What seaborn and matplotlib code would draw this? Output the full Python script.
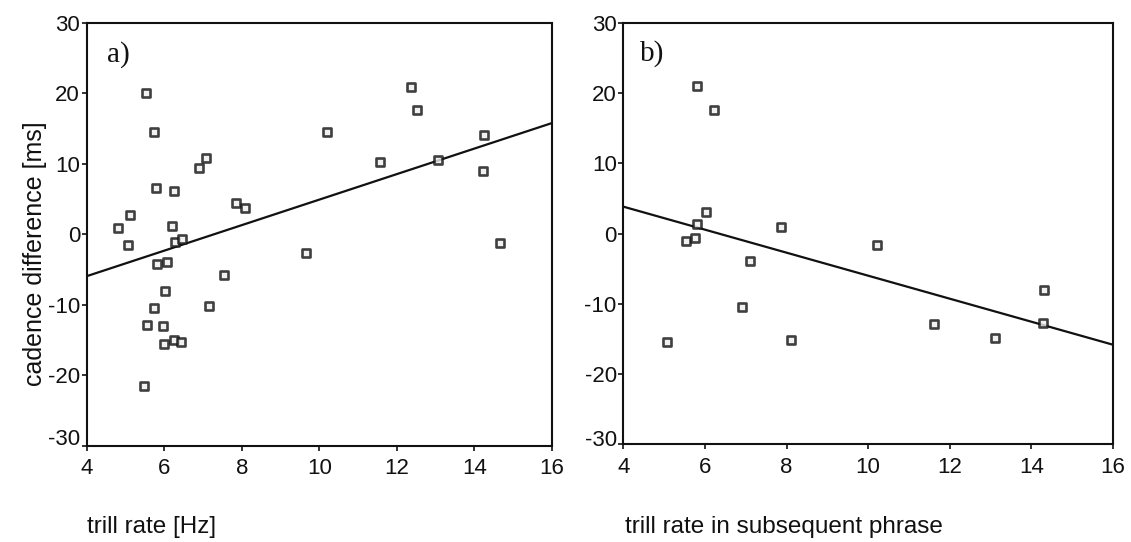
import matplotlib
matplotlib.use("Agg")
import matplotlib.pyplot as plt
import matplotlib.transforms as mtransforms
import seaborn as sns
import numpy as np

# Panel a: trill rate vs cadence difference
trill_rate = [5.53, 5.73, 10.21, 7.07, 6.89, 5.80, 6.25, 7.85, 8.09, 5.12,
              4.81, 6.20, 5.07, 6.28, 6.45, 5.82, 6.08, 7.54, 9.65, 6.03,
              5.73, 7.16, 5.56, 5.97, 6.26, 6.44, 6.00, 5.48, 12.36, 12.51,
              14.24, 11.57, 13.05, 14.21, 14.67]
cadence_diff_a = [20.0, 14.5, 14.5, 10.8, 9.4, 6.5, 6.1, 4.4, 3.7, 2.8,
                  0.9, 1.2, -1.5, -1.1, -0.7, -4.2, -3.9, -5.8, -2.7, -8.0,
                  -10.4, -10.2, -12.8, -13.0, -15.0, -15.2, -15.6, -21.5, 20.9, 17.6,
                  14.1, 10.2, 10.5, 9.0, -1.2]

# Panel b: trill rate in subsequent phrase vs cadence difference
trill_rate_next = [5.80, 6.23, 6.02, 5.81, 5.54, 5.75, 7.87, 7.10, 10.22, 6.92,
                   5.06, 8.11, 14.31, 14.28, 11.62, 13.10]
cadence_diff_b = [21.0, 17.6, 3.0, 1.3, -1.1, -0.6, 0.95, -3.9, -1.6, -10.5,
                  -15.5, -15.1, -8.1, -12.7, -12.9, -14.9]

x_ticks = [4, 6, 8, 10, 12, 14, 16]
y_ticks = [-30, -20, -10, 0, 10, 20, 30]
panel_tags = ["a)", "b)"]
x_labels = ["trill rate [Hz]", "trill rate in subsequent phrase"]
y_label = "cadence difference [ms]"

sns.set_style("ticks")
plt.rcParams["font.family"] = ["Liberation Sans", "DejaVu Sans"]
plt.rcParams["axes.unicode_minus"] = False

W, H = 1131, 542
fig = plt.figure(figsize=(W / 100, H / 100), dpi=100)

# axes boxes in pixel space: (left, top, right, bottom)
boxes = [(86.7, 22.7, 552.0, 446.0), (623.3, 22.7, 1113.0, 444.3)]
axes = []
for (l, t, r, b) in boxes:
    ax = fig.add_axes([l / W, 1 - b / H, (r - l) / W, (b - t) / H])
    axes.append(ax)

datasets = [(trill_rate, cadence_diff_a), (trill_rate_next, cadence_diff_b)]
tag_pos = [(0.044, 0.924), (0.034, 0.928)]
low_label_lift = [9, 6]  # pixels the bottom y tick label sits above its tick

for ax, (xs, ys), tag, tp, lift in zip(axes, datasets, panel_tags, tag_pos, low_label_lift):
    ax.set_xlim(4, 16)
    ax.set_ylim(-30, 30)
    sns.regplot(x=np.array(xs), y=np.array(ys), ax=ax, ci=None, truncate=False,
                marker="s",
                scatter_kws=dict(s=30, facecolor="#eeeeee", edgecolor="#111111",
                                 linewidths=1.9, zorder=3),
                line_kws=dict(color="#111111", lw=1.6, zorder=2))
    ax.set_xlim(4, 16)
    ax.set_ylim(-30, 30)
    ax.set_xticks(x_ticks)
    ax.set_yticks(y_ticks)
    ax.tick_params(direction="out", length=3.8, width=1.2, labelsize=16,
                   colors="#111111")
    ax.tick_params(axis="y", pad=1)
    ax.tick_params(axis="x", pad=5)
    for side in ["left", "bottom", "top", "right"]:
        ax.spines[side].set_visible(True)
        ax.spines[side].set_color("#111111")
        ax.spines[side].set_linewidth(1.5)
    ax.set_xlabel("")
    ax.set_ylabel("")
    ax.text(tp[0], tp[1], tag, transform=ax.transAxes, ha="left", va="center",
            fontsize=21, family=["Liberation Serif", "DejaVu Serif"],
            color="#111111")
    low = ax.get_yticklabels()[0]
    low.set_transform(low.get_transform()
                      + mtransforms.ScaledTranslation(0, lift / 100, fig.dpi_scale_trans))

fig.text(35 / W, 1 - 254 / H, y_label, rotation=90, ha="center", va="center",
         fontsize=18, color="#111111")
fig.text(87 / W, 1 - 527 / H, x_labels[0], ha="left", va="center",
         fontsize=17.5, color="#111111")
fig.text(625 / W, 1 - 527 / H, x_labels[1], ha="left", va="center",
         fontsize=17.5, color="#111111")

fig.savefig("out.png", dpi=100, facecolor="white")
